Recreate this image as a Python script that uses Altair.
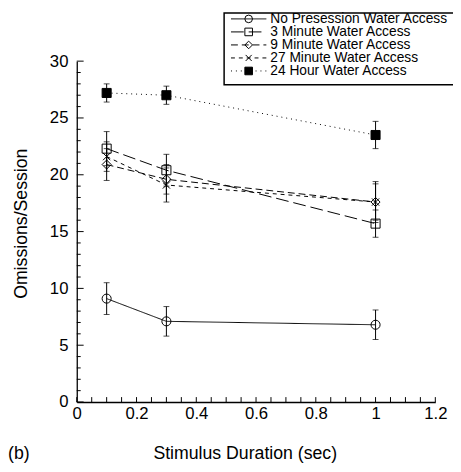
import altair as alt
import pandas as pd

# ---- data ----
durations = [0.1, 0.3, 1.0]
series_names = [
    "No Presession Water Access",
    "3 Minute Water Access",
    "9 Minute Water Access",
    "27 Minute Water Access",
    "24 Hour Water Access",
]
no_pre = [9.1, 7.1, 6.8]
no_pre_err = [1.4, 1.3, 1.3]
min3 = [22.3, 20.4, 15.7]
min3_err = [1.5, 1.4, 1.2]
min9 = [20.9, 19.6, 17.6]
min9_err = [1.4, 1.3, 1.6]
min27 = [21.6, 19.1, 17.6]
min27_err = [1.3, 1.5, 1.8]
h24 = [27.2, 27.0, 23.5]
h24_err = [0.8, 0.8, 1.2]

x_labels = [0, 0.2, 0.4, 0.6, 0.8, 1, 1.2]
y_labels = [0, 5, 10, 15, 20, 25, 30]
x_minor = [round(0.05 * i, 2) for i in range(25)]
y_minor = list(range(31))

values = [no_pre, min3, min9, min27, h24]
errors = [no_pre_err, min3_err, min9_err, min27_err, h24_err]

rows = []
for name, vals, errs in zip(series_names, values, errors):
    for x, v, e in zip(durations, vals, errs):
        rows.append({"series": name, "x": x, "y": v, "lo": v - e, "hi": v + e})
df = pd.DataFrame(rows)

FONT = "Liberation Sans"
W, H = 365, 347

shape_scale = alt.Scale(
    domain=series_names,
    range=["circle", "square", "diamond", "M-0.8,-0.8L0.8,0.8M-0.8,0.8L0.8,-0.8", "square"],
)
dash_scale = alt.Scale(domain=series_names, range=[[1, 0], [13, 5], [7, 4], [4, 4], [1, 4]])
fill_scale = alt.Scale(
    domain=series_names,
    range=["transparent", "transparent", "transparent", "transparent", "black"],
)

xs = alt.Scale(domain=[0, 1.2], nice=False, zero=False)
ys = alt.Scale(domain=[0, 30], nice=False, zero=False)

base = alt.Chart(df)

lines = base.mark_line(color="black", strokeWidth=1).encode(
    x=alt.X(
        "x:Q",
        scale=xs,
        axis=alt.Axis(
            values=x_labels, format="~g", title="Stimulus Duration (sec)", ticks=False, tickSize=0,
            labelPadding=4, labelFontSize=17, labelFont=FONT, labelColor="black",
            titleFontSize=18, titleFont=FONT, titleFontWeight="normal", titleColor="black",
            titleX=171, titleY=43, titleAlign="center", grid=False,
            domainColor="black", domainWidth=1.3, labelFlush=False,
        ),
    ),
    y=alt.Y(
        "y:Q",
        scale=ys,
        axis=alt.Axis(
            values=y_labels, title="Omissions/Session", ticks=False, tickSize=0,
            labelPadding=9, labelFontSize=17, labelFont=FONT, labelColor="black",
            titleFontSize=18, titleFont=FONT, titleFontWeight="normal", titleColor="black",
            titleX=-56, titleY=165, titleAlign="center", titleBaseline="middle",
            grid=False, domainColor="black", domainWidth=1.3, labelFlush=False,
        ),
    ),
    strokeDash=alt.StrokeDash("series:N", scale=dash_scale, legend=None),
    detail="series:N",
)

err_rules = base.mark_rule(color="black", strokeWidth=1).encode(
    x=alt.X("x:Q", scale=xs), y=alt.Y("lo:Q", scale=ys), y2="hi:Q"
)
caps_lo = base.mark_tick(color="black", orient="horizontal", size=6, thickness=1).encode(
    x=alt.X("x:Q", scale=xs), y=alt.Y("lo:Q", scale=ys)
)
caps_hi = base.mark_tick(color="black", orient="horizontal", size=6, thickness=1).encode(
    x=alt.X("x:Q", scale=xs), y=alt.Y("hi:Q", scale=ys)
)

points = base.mark_point(filled=True, size=85, stroke="black", strokeWidth=1, opacity=1).encode(
    x=alt.X("x:Q", scale=xs),
    y=alt.Y("y:Q", scale=ys),
    shape=alt.Shape("series:N", scale=shape_scale, legend=None),
    fill=alt.Fill("series:N", scale=fill_scale, legend=None),
)

xt_df = pd.DataFrame({"t": x_minor})
yt_df = pd.DataFrame({"t": y_minor, "major": [v % 5 == 0 for v in y_minor]})

x_ticks = alt.Chart(xt_df).mark_rule(color="black", strokeWidth=1).encode(
    x=alt.X("t:Q", scale=xs), y=alt.value(H), y2=alt.value(H - 5)
)
y_ticks_minor = alt.Chart(yt_df).transform_filter("!datum.major").mark_rule(
    color="black", strokeWidth=1
).encode(y=alt.Y("t:Q", scale=ys), x=alt.value(0), x2=alt.value(4))
y_ticks_major = alt.Chart(yt_df).transform_filter("datum.major").mark_rule(
    color="black", strokeWidth=1
).encode(y=alt.Y("t:Q", scale=ys), x=alt.value(0), x2=alt.value(7))

panel_label = alt.Chart(pd.DataFrame({"lab": ["(b)"]})).mark_text(
    align="left", baseline="middle", fontSize=18, font=FONT, color="black"
).encode(x=alt.value(-70), y=alt.value(400), text="lab:N")

main = alt.layer(
    lines, err_rules, caps_lo, caps_hi, points, x_ticks, y_ticks_minor, y_ticks_major, panel_label
)

# ---- legend box ----
leg_df = pd.DataFrame({"series": series_names})
leg_y = alt.Y(
    "series:N",
    sort=series_names,
    scale=alt.Scale(type="point", range=[-43, 10], padding=0),
    axis=None,
)

leg_box = alt.Chart(pd.DataFrame({"a": [0]})).mark_rect(
    fill="white", stroke="black", strokeWidth=1.5
).encode(x=alt.value(150), x2=alt.value(420), y=alt.value(-49), y2=alt.value(24))

leg_lines = alt.Chart(leg_df).mark_rule(color="black", strokeWidth=1).encode(
    x=alt.value(157), x2=alt.value(193), y=leg_y,
    strokeDash=alt.StrokeDash("series:N", scale=dash_scale, legend=None),
)
leg_pts = alt.Chart(leg_df).mark_point(filled=True, size=60, stroke="black", strokeWidth=1, opacity=1).encode(
    x=alt.value(175), y=leg_y,
    shape=alt.Shape("series:N", scale=shape_scale, legend=None),
    fill=alt.Fill("series:N", scale=fill_scale, legend=None),
)
leg_text = alt.Chart(leg_df).mark_text(
    align="left", baseline="middle", fontSize=14, font=FONT, color="black"
).encode(x=alt.value(197), y=leg_y, text="series:N")

legend = alt.layer(leg_box, leg_lines, leg_pts, leg_text)

chart = (
    alt.layer(main, legend)
    .resolve_scale(y="independent")
    .properties(
        width=W,
        height=H,
        autosize=alt.AutoSizeParams(type="none"),
        padding={"left": 70, "top": 50, "right": 18, "bottom": 59},
    )
    .configure_view(stroke=None)
)

chart.save("out.html", embed_options={"renderer": "svg", "actions": False})
